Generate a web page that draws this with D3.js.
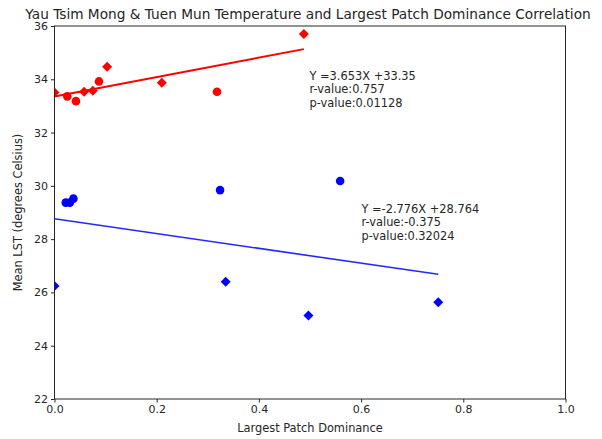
<!DOCTYPE html>
<html><head><meta charset="utf-8">
<script src="https://cdn.jsdelivr.net/npm/d3@7"></script>
<style>body{margin:0;background:#fff}svg{font-family:"DejaVu Sans",sans-serif}</style>
</head><body><div id="chart"></div>
<script>
const title = "Yau Tsim Mong & Tuen Mun Temperature and Largest Patch Dominance Correlation";
const xTicks = [0.0, 0.2, 0.4, 0.6, 0.8, 1.0];
const yTicks = [22, 24, 26, 28, 30, 32, 34, 36];
// red points
const redCircleX = [0.025, 0.042, 0.087, 0.318];
const redCircleY = [33.36, 33.18, 33.92, 33.53];
const redDiamondX = [0.0, 0.058, 0.075, 0.103, 0.210, 0.488];
const redDiamondY = [33.50, 33.53, 33.57, 34.47, 33.87, 35.70];
// blue points
const blueCircleX = [0.022, 0.030, 0.037, 0.324, 0.559];
const blueCircleY = [29.37, 29.37, 29.52, 29.84, 30.18];
const blueDiamondX = [0.0, 0.335, 0.497, 0.751];
const blueDiamondY = [26.24, 26.40, 25.13, 25.63];
const redFit = {slope: 3.653, intercept: 33.35, r: "0.757", p: "0.01128", label: "Y =3.653X +33.35"};
const blueFit = {slope: -2.776, intercept: 28.764, r: "-0.375", p: "0.32024", label: "Y =-2.776X +28.764"};

const W = 602, H = 439;
const m = {left: 54.5, right: 602-565.5, top: 26, bottom: 439-399};
const svg = d3.select("#chart").append("svg").attr("width", W).attr("height", H);
const x = d3.scaleLinear().domain([0, 1]).range([m.left, W - m.right]);
const y = d3.scaleLinear().domain([22, 36]).range([H - m.bottom, m.top]);

svg.append("clipPath").attr("id","clip").append("rect")
  .attr("x", m.left).attr("y", m.top).attr("width", x(1)-x(0)).attr("height", y(22)-y(36));
const g = svg.append("g").attr("clip-path","url(#clip)");

function fitLine(fit, xs, color, op) {
  const x0 = d3.min(xs), x1 = d3.max(xs);
  g.append("line")
    .attr("x1", x(x0)).attr("y1", y(fit.slope*x0 + fit.intercept))
    .attr("x2", x(x1)).attr("y2", y(fit.slope*x1 + fit.intercept))
    .attr("stroke", color).attr("stroke-width", op < 1 ? 1.6 : 2).attr("stroke-opacity", op);
}
function circles(xs, ys, color) {
  g.selectAll(null).data(xs.map((d,i)=>[d, ys[i]])).enter().append("circle")
    .attr("cx", d=>x(d[0])).attr("cy", d=>y(d[1])).attr("r", 4.3).attr("fill", color);
}
function diamonds(xs, ys, color) {
  const sym = d3.symbol().type(d3.symbolSquare).size(50);
  g.selectAll(null).data(xs.map((d,i)=>[d, ys[i]])).enter().append("path")
    .attr("d", sym).attr("transform", d=>`translate(${x(d[0])},${y(d[1])}) rotate(45)`).attr("fill", color);
}
const allRedX = redCircleX.concat(redDiamondX);
const allBlueX = blueCircleX.concat(blueDiamondX);
fitLine(redFit, allRedX, "#ff0000", 1);
fitLine(blueFit, allBlueX, "#0000ff", 0.85);
circles(redCircleX, redCircleY, "#ff0000");
diamonds(redDiamondX, redDiamondY, "#ff0000");
circles(blueCircleX, blueCircleY, "#0000ff");
diamonds(blueDiamondX, blueDiamondY, "#0000ff");

// axes
const xa = svg.append("g").attr("transform", `translate(0,${y(22)})`)
  .call(d3.axisBottom(x).tickValues(xTicks).tickFormat(d3.format(".1f")).tickSize(3.5).tickPadding(3));
const ya = svg.append("g").attr("transform", `translate(${x(0)},0)`)
  .call(d3.axisLeft(y).tickValues(yTicks).tickFormat(d3.format("d")).tickSize(3.5).tickPadding(3));
[xa, ya].forEach(a => {
  a.select(".domain").remove();
  a.selectAll("text").attr("font-size", 11).attr("fill", "#262626").attr("font-family", "DejaVu Sans");
  a.selectAll("line").attr("stroke", "#262626");
});
svg.append("rect").attr("x", x(0)).attr("y", y(36)).attr("width", x(1)-x(0)).attr("height", y(22)-y(36))
  .attr("fill", "none").attr("stroke", "#262626").attr("stroke-width", 1);

// labels
svg.append("text").attr("x", 308).attr("y", 18.5).attr("text-anchor","middle")
  .attr("font-size", 13.7).attr("fill","#262626").text(title);
svg.append("text").attr("x", (x(0)+x(1))/2).attr("y", 432).attr("text-anchor","middle")
  .attr("font-size", 11.4).attr("fill","#262626").text("Largest Patch Dominance");
svg.append("text").attr("transform", `translate(22,${(y(22)+y(36))/2}) rotate(-90)`).attr("text-anchor","middle")
  .attr("font-size", 11.4).attr("fill","#262626").text("Mean LST (degrees Celsius)");

function annot(fit, px, py) {
  const t = svg.append("text").attr("x", px).attr("y", py).attr("font-size", 11.4).attr("fill", "#262626");
  [fit.label, "r-value:" + fit.r, "p-value:" + fit.p].forEach((s, i) =>
    t.append("tspan").attr("x", px).attr("dy", i ? 13.5 : 0).text(s));
}
annot(redFit, 309.5, 79.5);
annot(blueFit, 361.5, 212.5);
</script></body></html>
